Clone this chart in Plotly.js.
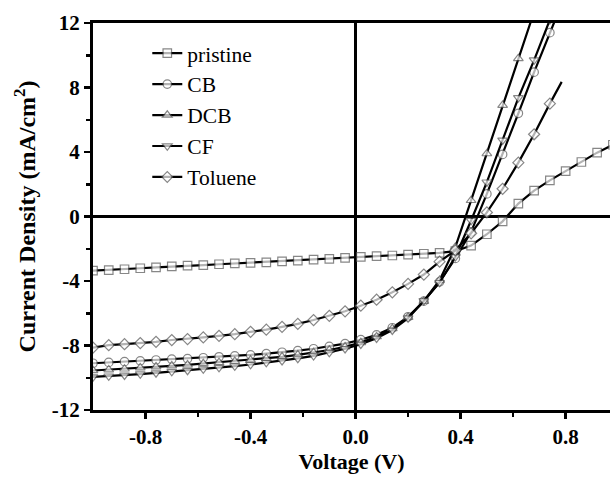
<!DOCTYPE html>
<html>
<head>
<meta charset="utf-8">
<script src="https://cdn.plot.ly/plotly-3.0.1.min.js"></script>
<style>html,body{margin:0;padding:0;background:#fff;overflow:hidden;}#chart{width:610px;height:482px;}</style>
</head>
<body>
<div id="chart"></div>
<script>
// Voltage grid (V)
const voltage = [-1.00,-0.94,-0.88,-0.82,-0.76,-0.70,-0.64,-0.58,-0.52,-0.46,-0.40,-0.34,-0.28,-0.22,-0.16,-0.10,-0.04,0.02,0.08,0.14,0.20,0.26,0.32,0.38,0.44,0.50,0.56,0.62,0.68,0.74,0.80,0.86,0.92,0.98];

// Current density (mA/cm2)
const pristine = [-3.36,-3.32,-3.27,-3.21,-3.15,-3.09,-3.05,-3.01,-2.96,-2.91,-2.88,-2.84,-2.78,-2.74,-2.67,-2.63,-2.57,-2.50,-2.46,-2.42,-2.36,-2.31,-2.26,-2.15,-1.80,-1.10,-0.30,0.80,1.60,2.24,2.82,3.38,3.96,4.45];
const cb = [-9.10,-9.05,-9.00,-8.95,-8.90,-8.85,-8.82,-8.76,-8.70,-8.64,-8.58,-8.50,-8.42,-8.32,-8.20,-8.06,-7.88,-7.64,-7.34,-6.90,-6.22,-5.25,-4.05,-2.60,-0.95,1.40,3.85,6.40,8.95,11.40,13.80];
const dcb = [-9.55,-9.50,-9.45,-9.38,-9.32,-9.26,-9.20,-9.12,-9.05,-8.98,-8.90,-8.80,-8.70,-8.58,-8.44,-8.28,-8.08,-7.82,-7.45,-6.95,-6.25,-5.25,-3.95,-1.90,1.00,3.90,6.90,9.80,12.70];
const cf = [-9.95,-9.90,-9.84,-9.77,-9.70,-9.62,-9.55,-9.46,-9.37,-9.28,-9.18,-9.06,-8.94,-8.80,-8.64,-8.44,-8.20,-7.92,-7.55,-7.05,-6.30,-5.22,-4.10,-2.50,-0.25,2.13,4.73,7.36,9.70,12.20];
const toluene = [-8.13,-7.98,-7.92,-7.85,-7.77,-7.66,-7.60,-7.50,-7.40,-7.30,-7.15,-7.02,-6.84,-6.66,-6.42,-6.16,-5.88,-5.53,-5.16,-4.70,-4.18,-3.60,-2.80,-2.10,-1.04,0.25,1.72,3.34,5.10,7.00];
const tolueneEndV = 0.785;
const tolueneEndJ = 8.35;

const seriesNames = ['pristine','CB','DCB','CF','Toluene'];
const xTickVals = [-0.8,-0.4,0.0,0.4,0.8];
const xTickText = ['-0.8','-0.4','0.0','0.4','0.8'];
const yTickVals = [-12,-8,-4,0,4,8,12];
const yTickText = ['-12','-8','-4','0','4','8','12'];

const symbols = ['square','circle','triangle-up','triangle-down','diamond'];
const yData = [pristine, cb, dcb, cf, toluene];

const traces = yData.map((ys, i) => {
  let xs = voltage.slice(0, ys.length);
  let yy = ys.slice();
  let sizes = yy.map(() => 8.5);
  if (i === 4) { xs = xs.concat([tolueneEndV]); yy = yy.concat([tolueneEndJ]); sizes = sizes.concat([0]); }
  return {
    x: xs, y: yy, name: seriesNames[i], type: 'scatter', mode: 'lines+markers',
    line: {color: '#000', width: 2.2},
    marker: {symbol: symbols[i], size: sizes, color: '#fff', line: {color: '#555', width: 1.2}}
  };
});

const serif = 'Liberation Serif, Times New Roman, serif';
const tickFont = {family: serif, size: 21, color: '#000', weight: 'bold'};
const layout = {
  width: 610, height: 482,
  margin: {l: 93, r: 0, t: 23, b: 72},
  paper_bgcolor: '#fff', plot_bgcolor: '#fff',
  showlegend: true,
  legend: {x: 0.105, y: 0.975, xanchor: 'left', yanchor: 'top', bgcolor: 'rgba(0,0,0,0)',
           font: {family: serif, size: 21.5, color: '#000'},
           tracegroupgap: 0, itemwidth: 30},
  xaxis: {
    range: [-1.0, 0.969], tickmode: 'array', tickvals: xTickVals, ticktext: xTickText,
    ticks: 'outside', ticklen: 6, tickwidth: 2.5, tickcolor: '#000',
    minor: {tickmode: 'array', tickvals: [-0.6,-0.2,0.2,0.6], ticks: 'outside', ticklen: 4, tickwidth: 2.5, tickcolor: '#000'},
    showline: true, linewidth: 3, linecolor: '#000', mirror: true,
    showgrid: false, zeroline: true, zerolinewidth: 3, zerolinecolor: '#000',
    tickfont: tickFont,
    title: {text: 'Voltage (V)', font: {family: serif, size: 22, color: '#000', weight: 'bold'}, standoff: 6}
  },
  yaxis: {
    range: [-12, 12], tickmode: 'array', tickvals: yTickVals, ticktext: yTickText,
    ticks: 'outside', ticklen: 6, tickwidth: 2.5, tickcolor: '#000',
    minor: {tickmode: 'array', tickvals: [-10,-6,-2,2,6,10], ticks: 'outside', ticklen: 4, tickwidth: 2.5, tickcolor: '#000'},
    showline: true, linewidth: 3, linecolor: '#000', mirror: false,
    showgrid: false, zeroline: true, zerolinewidth: 3, zerolinecolor: '#000',
    tickfont: tickFont,
    title: {text: 'Current Density (mA/cm<sup>2</sup>)', font: {family: serif, size: 24, color: '#000', weight: 'bold'}, standoff: 10}
  }
};

Plotly.newPlot('chart', traces, layout, {displayModeBar: false, staticPlot: true});
</script>
</body>
</html>
